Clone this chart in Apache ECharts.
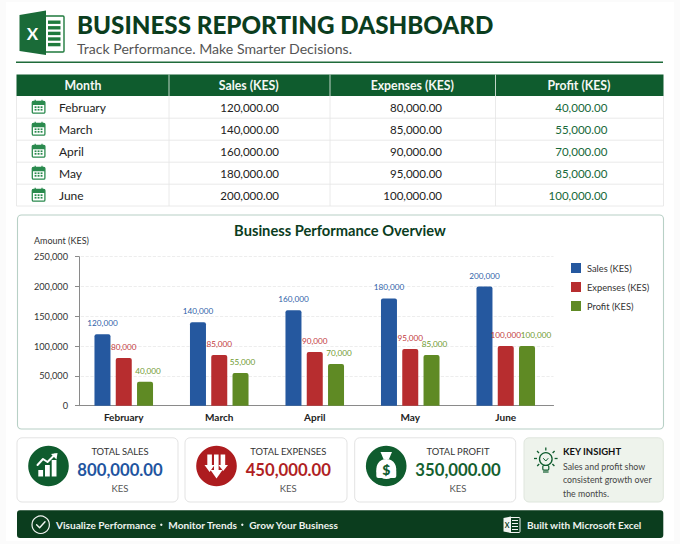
<!DOCTYPE html>
<html><head><meta charset="utf-8">
<style>html,body{margin:0;padding:0;background:#fff}#c{width:680px;height:544px}</style>
<script src="https://cdn.jsdelivr.net/npm/echarts@6/dist/echarts.min.js"></script>
</head><body><div id="c"></div>
<script>
const months = ['February','March','April','May','June'];
const sales = [120000,140000,160000,180000,200000];
const expenses = [80000,85000,90000,95000,100000];
const profit = [40000,55000,70000,85000,100000];
const yTicks = [0,50000,100000,150000,200000,250000];
const seriesNames = ['Sales (KES)','Expenses (KES)','Profit (KES)'];
const tableHead = ['Month','Sales (KES)','Expenses (KES)','Profit (KES)'];
const insightLines = ['Sales and profit show','consistent growth over','the months.'];

const FF = 'Lato, "Noto Sans", sans-serif';
const DARK='#0b3d1e', GREEN='#0f5c2e';
const sum = a => a.reduce((p,c)=>p+c,0);
const money = v => v.toLocaleString('en-US',{minimumFractionDigits:2,maximumFractionDigits:2});
const g = [];
const T=(x,y,text,size,fill,weight,align)=>g.push({type:'text',silent:true,style:{x,y,text,fill,font:`${weight||400} ${size}px ${FF}`,textAlign:align||'left',textVerticalAlign:'middle'}});
const R=(x,y,w,h,fill,stroke,r,lw)=>g.push({type:'rect',silent:true,shape:{x,y,width:w,height:h,r:r||0},style:{fill:fill||'none',stroke:stroke||'none',lineWidth:lw||1}});
const C=(cx,cy,r,fill,stroke,lw)=>g.push({type:'circle',silent:true,shape:{cx,cy,r},style:{fill:fill||'none',stroke:stroke||'none',lineWidth:lw||1}});
const L=(x1,y1,x2,y2,stroke,lw)=>g.push({type:'line',silent:true,shape:{x1,y1,x2,y2},style:{stroke,lineWidth:lw||1}});
const P=(points,fill,stroke,lw)=>g.push({type:'polygon',silent:true,shape:{points},style:{fill:fill||'none',stroke:stroke||'none',lineWidth:lw||1}});
const PL=(points,stroke,lw)=>g.push({type:'polyline',silent:true,shape:{points},style:{fill:'none',stroke,lineWidth:lw||1,lineCap:'round',lineJoin:'round'}});

// page edge tint
R(0,0,680,544,'#fbfbfb');
R(6,2,668,539,'#ffffff');

// Excel logo
R(44,16,20,36,'#fff','#1f7a3d',1,1.4);
for(let i=0;i<5;i++){R(48,20.5+i*5.6,12.5,3.4,'#1f7a3d');}
P([[19.5,15],[46,10.5],[46,55],[19.5,51]],'#1a6b38');
T(32.5,33.5,'X',17,'#fff',700,'center');

// Header
T(77,24,'BUSINESS REPORTING DASHBOARD',24.2,DARK,900);
T(77,48,'Track Performance. Make Smarter Decisions.',14.1,'#555',400);
L(16,62.2,663,62.2,'#1f6b3a',1.4);

// Table
const colX=[16.5,169,330,495.5,663.5];
const headCx=[83,248.7,412.3,579];
const valRight=[279,442,607.3];
const rowY=[96,118.2,140.2,162.2,184.2,206];
R(16.5,74.5,647,21.5,GREEN);
tableHead.forEach((h,i)=>T(headCx[i],85.5,h,12.3,'#f4f7f4',700,'center'));
[1,2,3].forEach(i=>L(colX[i],74.5,colX[i],96,'#d6e3da',0.9));
rowY.slice(1).forEach(y=>L(16.5,y,663.5,y,'#e4e4e4',0.8));
[0,1,2,3,4].forEach(i=>L(colX[i],96,colX[i],206,'#e4e4e4',0.8));
months.forEach((m,i)=>{
  const cy=(rowY[i]+rowY[i+1])/2;
  R(32.3,cy-5.8,12.6,11.8,'#fff','#2a8a4e',1.2,1.3);
  R(32.3,cy-5.8,12.6,3.8,'#2a8a4e');
  L(35.2,cy-7.4,35.2,cy-4.6,'#2a8a4e',1.2); L(42,cy-7.4,42,cy-4.6,'#2a8a4e',1.2);
  [0,1,2].forEach(a=>[0,1].forEach(b=>R(34.6+a*3,cy-0.8+b*2.6,1.9,1.7,'#2a8a4e')));
  T(59,cy,m,12,'#222',400);
  T(valRight[0],cy,money(sales[i]),11.5,'#222',400,'right');
  T(valRight[1],cy,money(expenses[i]),11.5,'#222',400,'right');
  T(valRight[2],cy,money(profit[i]),11.5,'#17693a',400,'right');
});

// Chart card
R(17.5,215,646,214,'#fff','#b8d0c6',4,1.1);
T(340,230,'Business Performance Overview',14.7,DARK,700,'center');
T(34,240.5,'Amount (KES)',9,'#333',400);

// KPI cards
const cards=[
 {x:17,w:161,label:'TOTAL SALES',val:sum(sales),col:'#1f55a0',cx:120,circ:GREEN},
 {x:185,w:162,label:'TOTAL EXPENSES',val:sum(expenses),col:'#b01f24',cx:288.3,circ:'#ad1c1f'},
 {x:354.7,w:161,label:'TOTAL PROFIT',val:sum(profit),col:'#14602f',cx:458,circ:GREEN}];
cards.forEach(c=>{
  R(c.x,437.8,c.w,64.2,'#fff','#e3e3e3',5,1);
  C(c.x+31.5,466,20.3,c.circ);
  T(c.cx,451.7,c.label,9.4,'#333',400,'center');
  T(c.cx,470.3,money(c.val),16.7,c.col,700,'center');
  T(c.cx,488,'KES',9.5,'#555',400,'center');
});
// sales icon
R(38.3,470,4.8,6.5,'#fff'); R(45,465,4.8,11.5,'#fff'); R(51.7,460,4.8,16.5,'#fff');
PL([[37.5,465],[43,459],[47.5,462],[55,454.5]],'#fff',2);
P([[51,454],[57.5,453],[56.5,459.5]],'#fff');
// expenses icon
R(207.3,454.5,4.6,11,'#fff'); R(214,454.5,4.6,16,'#fff'); R(220.6,454.5,4.6,11,'#fff');
P([[204.5,465],[214.6,465],[209.6,472]],'#fff');
P([[210.5,470],[222.5,470],[216.5,478.5]],'#fff');
P([[218.5,465],[228,465],[223.2,471]],'#fff');
// profit icon (money bag)
P([[380.5,452],[392,452],[389,459],[383.5,459]],'#fff');
C(386.3,469,10,'#fff');
R(376.3,469,20,9,'#fff',null,2);
T(386.3,469.5,'$',14,GREEN,900,'center');

// Insight card
R(524,437.8,139.3,64.2,'#eef3ec','#dfe6dd',5,1);
T(563,451.7,'KEY INSIGHT',9.5,'#111',700);
insightLines.forEach((t,i)=>T(563,466+i*13.5,t,8.8,'#444',400));
// bulb
C(545.8,459,6.3,'none',GREEN,1.3);
R(542.8,465.5,6,4.6,'none',GREEN,1,1.2);
L(543,472,548.6,472,GREEN,1.2);
PL([[543.5,458.5],[545.8,461],[548,458.5]],GREEN,1);
[[545.8,447.5,545.8,450.5],[537,451,539,453],[554.6,451,552.6,453],[534,458.5,537,458.5],[554.6,458.5,557.6,458.5],[537.2,466,539.2,464],[554.4,466,552.4,464]].forEach(a=>L(a[0],a[1],a[2],a[3],GREEN,1.3));

// Footer
R(17,510.3,646.3,27.7,DARK,null,3);
C(40.7,524.7,8.7,'none','#f2f5f2',1.2);
PL([[36.6,524.8],[39.6,527.8],[45,521.8]],'#f2f5f2',1.4);
T(56,524.7,'Visualize Performance',10.1,'#eef2ee',700);
C(161.3,524.7,1.2,'#eef2ee');
T(168.3,524.7,'Monitor Trends',10.1,'#eef2ee',700);
C(242.3,524.7,1.2,'#eef2ee');
T(249.3,524.7,'Grow Your Business',10.1,'#eef2ee',700);
R(510,517.5,10,15,'none','#f2f5f2',1,1);
[0,1,2,3].forEach(i=>L(512,520.5+i*3,518,520.5+i*3,'#f2f5f2',1));
P([[503.5,518],[511,516.5],[511,533],[503.5,531.5]],'#f2f5f2');
T(507.2,524.7,'X',7,DARK,700,'center');
T(527,524.7,'Built with Microsoft Excel',10,'#eef2ee',700);

const fmt=v=>v.toLocaleString('en-US');
const labelColors=['#2f5fa8','#c23a3c','#6f9a30'];
const barColors=['#25589f','#b72d2f','#5f8a24'];
const profitShift=[3,2,3,3,9];
const mk=(i,vals)=>({
  name:seriesNames[i],type:'bar',barWidth:16,barGap:'33%',
  itemStyle:{color:barColors[i],borderRadius:[2,2,0,0]},
  label:{show:true,position:'top',distance:7,fontSize:8.2,fontFamily:FF,color:labelColors[i],formatter:p=>fmt(p.value)},
  data:vals.map((v,k)=>i===2?{value:v,label:{offset:[profitShift[k],0]}}:v)
});
const chart=echarts.init(document.getElementById('c'),null,{renderer:'svg',width:680,height:544});
chart.setOption({
  animation:false,backgroundColor:'transparent',
  graphic:{elements:g},
  grid:{left:76,right:126.5,top:256.7,bottom:138.3,containLabel:false},
  legend:{orient:'vertical',left:566,top:258,itemWidth:10,itemHeight:10,itemGap:9,icon:'rect',
    textStyle:{fontSize:9.3,color:'#333',fontFamily:FF,padding:[0,0,0,1]},data:seriesNames},
  xAxis:{type:'category',data:months,axisTick:{show:false},axisLine:{lineStyle:{color:'#8a8a8a',width:1.2}},
    axisLabel:{fontSize:10,fontWeight:700,color:'#222',fontFamily:FF,margin:6}},
  yAxis:{type:'value',min:yTicks[0],max:yTicks[yTicks.length-1],interval:yTicks[1]-yTicks[0],offset:-3,
    axisLine:{show:true,lineStyle:{color:'#8a8a8a',width:1}},
    axisTick:{show:true,length:4,lineStyle:{color:'#8a8a8a'}},
    axisLabel:{fontSize:9.2,color:'#333',fontFamily:FF,margin:11,formatter:fmt},
    splitLine:{lineStyle:{color:'#e9e9e9',type:'dashed',width:0.8}}},
  series:[mk(0,sales),mk(1,expenses),mk(2,profit)]
});
</script></body></html>
